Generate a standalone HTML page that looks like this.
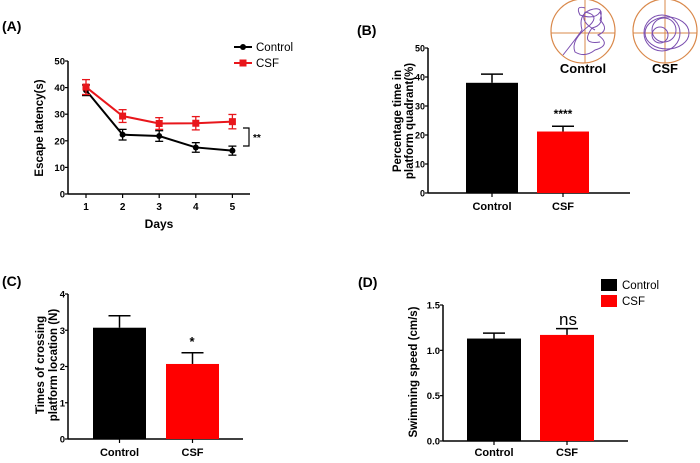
<!DOCTYPE html>
<html><head><meta charset="utf-8"><style>
body{margin:0;background:#fff;width:700px;height:458px;overflow:hidden}
svg{font-family:"Liberation Sans",Arial,sans-serif}
.b{font-weight:bold}
</style></head><body>
<svg id="s" width="700" height="458" viewBox="0 0 700 458">
<text x="2" y="31" font-size="14" class="b">(A)</text>
<text x="357" y="35" font-size="14" class="b">(B)</text>
<text x="2" y="286" font-size="14" class="b">(C)</text>
<text x="358" y="287" font-size="14" class="b">(D)</text>
<g id="A"></g>
<g id="B"></g>
<g id="C"></g>
<g id="D"></g>
<g>
<circle cx="583" cy="31" r="32" fill="none" stroke="#d9884a" stroke-width="1.2"/>
<line x1="551" y1="33" x2="615" y2="33" stroke="#d9884a"/><line x1="585" y1="-1" x2="585" y2="63" stroke="#d9884a"/>
<path d="M563 55 Q575 40 582 30 Q578 15 590 10 Q605 5 600 20 Q610 30 598 35 Q612 45 595 50 Q585 58 575 52 Q570 40 590 25 Q600 15 585 12 Q580 22 595 30 M585 8 Q575 5 580 15 Q595 20 600 12 Q605 25 592 28 Q580 45 600 42" fill="none" stroke="#7b4fb0" stroke-width="1"/>
<circle cx="665" cy="31" r="32" fill="none" stroke="#d9884a" stroke-width="1.2"/>
<line x1="633" y1="33" x2="697" y2="33" stroke="#d9884a"/><line x1="665" y1="-1" x2="665" y2="63" stroke="#d9884a"/>
<circle cx="662" cy="33" r="18" fill="none" stroke="#7b4fb0"/><circle cx="664" cy="30" r="12" fill="none" stroke="#7b4fb0"/><circle cx="660" cy="35" r="8" fill="none" stroke="#7b4fb0"/><ellipse cx="667" cy="33" rx="22" ry="16" fill="none" stroke="#7b4fb0"/>
<text x="583" y="73" font-size="13" class="b" text-anchor="middle">Control</text>
<text x="665" y="73" font-size="13" class="b" text-anchor="middle">CSF</text>
</g>
</svg>
<script>
const NS="http://www.w3.org/2000/svg";
function el(p,t,a,txt){const e=document.createElementNS(NS,t);for(const k in a)e.setAttribute(k,a[k]);if(txt!=null)e.textContent=txt;p.appendChild(e);return e;}

// Panel A data
const daysA=[1,2,3,4,5];
const controlA=[39,22.3,21.8,17.5,16.3];
const controlErrA=[2,2,2,1.8,1.7];
const csfA=[40.2,29.3,26.5,26.6,27.2];
const csfErrA=[2.8,2.4,2.2,2.5,2.7];
const ticksA=[0,10,20,30,40,50];
// Panel B data
const catsB=["Control","CSF"];
const valsB=[38,21.2];
const errB=[3,1.8];
const ticksB=[0,10,20,30,40,50];
// Panel C data
const valsC=[3.07,2.07];
const errC=[0.33,0.31];
const ticksC=[0,1,2,3,4];
// Panel D data
const valsD=[1.13,1.17];
const errD=[0.06,0.07];
const ticksD=["0.0","0.5","1.0","1.5"];

function yAxis(g,x,y0,y1,max,ticks,x2,fs){
  const sy=v=>y0-(v/max)*(y0-y1);
  let l=el(g,'line',{x1:x,y1:y0,x2:x,y2:y1,stroke:'#000','stroke-width':1.5});
  
  
  let xl=el(g,'line',{x1:x,y1:y0,x2:x2,y2:y0,stroke:'#000','stroke-width':1.5});
  
  
  ticks.forEach(t=>{const v=parseFloat(t);const y=sy(v);
    el(g,'line',{x1:x-3,y1:y,x2:x,y2:y,stroke:'#000','stroke-width':1.2});
    const tx=el(g,'text',{x:x-3,y:y+3.5,'font-size':fs||10,'text-anchor':'end','font-weight':'bold'},String(t));
    
    
  });
  return sy;
}
function vtitle(g,baselines,cy,lines){
  lines.forEach((s,i)=>{const x=baselines[i];
    const t=el(g,'text',{x:x,y:cy,'font-size':11.5,'font-weight':'bold','text-anchor':'middle',transform:`rotate(-90 ${x} ${cy})`},s);
    
    
  });
}
function bars(g,sy,vals,errs,lefts,w,y0,cats,labY){
  const cols=['#000','#f00'];
  vals.forEach((v,i)=>{
    const x=lefts[i];const top=sy(v);
    const ey=sy(v+errs[i]);
    el(g,'line',{x1:x+w/2,y1:top,x2:x+w/2,y2:ey,stroke:'#000','stroke-width':1.5});
    el(g,'line',{x1:x+w/2-11,y1:ey,x2:x+w/2+11,y2:ey,stroke:'#000','stroke-width':1.5});
    const r=el(g,'rect',{x:x,y:top,width:w,height:y0-top,fill:cols[i]});
    
    
    el(g,'line',{x1:x+w/2,y1:y0,x2:x+w/2,y2:y0+4,stroke:'#000','stroke-width':1.2});
    const t=el(g,'text',{x:x+w/2,y:labY,'font-size':11,'font-weight':'bold','text-anchor':'middle'},cats[i]);
    
    
  });
}

// Panel A
(function(){
  const g=document.getElementById('A');
  const sy=yAxis(g,68,194,61,50,ticksA,250,9.5);
  const sx=d=>86+(d-1)*36.6;
  daysA.forEach(d=>{el(g,'line',{x1:sx(d),y1:194,x2:sx(d),y2:198,stroke:'#000','stroke-width':1.2});
    const t=el(g,'text',{x:sx(d),y:210,'font-size':10,'font-weight':'bold','text-anchor':'middle'},String(d));
    
    });
  const t=el(g,'text',{x:159,y:228,'font-size':12,'font-weight':'bold','text-anchor':'middle'},'Days');
  
  
  vtitle(g,[43],128,['Escape latency(s)']);
  [[controlA,controlErrA,'#000','control'],[csfA,csfErrA,'#e8161b','csf']].forEach(([vals,errs,c,n])=>{
    const pts=vals.map((v,i)=>sx(daysA[i])+','+sy(v)).join(' ');
    const pl=el(g,'polyline',{points:pts,fill:'none',stroke:c,'stroke-width':2});
    
    
    vals.forEach((v,i)=>{const x=sx(daysA[i]);
      el(g,'line',{x1:x,y1:sy(v-errs[i]),x2:x,y2:sy(v+errs[i]),stroke:c,'stroke-width':1.3});
      el(g,'line',{x1:x-4,y1:sy(v-errs[i]),x2:x+4,y2:sy(v-errs[i]),stroke:c,'stroke-width':1.3});
      el(g,'line',{x1:x-4,y1:sy(v+errs[i]),x2:x+4,y2:sy(v+errs[i]),stroke:c,'stroke-width':1.3});
      const m=n=='control'?el(g,'circle',{cx:x,cy:sy(v),r:3,fill:c}):el(g,'rect',{x:x-3.5,y:sy(v)-3.5,width:7,height:7,fill:c});
      
      
    });
  });
  el(g,'path',{d:'M243 128 H249 V146 H243',fill:'none',stroke:'#000','stroke-width':1.2});
  el(g,'text',{x:253,y:141,'font-size':10,'font-weight':'bold'},'**');
  const lg=el(g,'g',{});
  
  
  el(lg,'line',{x1:234,y1:47,x2:252,y2:47,stroke:'#000','stroke-width':2});el(lg,'circle',{cx:243,cy:47,r:3});
  el(lg,'text',{x:256,y:51,'font-size':11.5},'Control');
  el(lg,'line',{x1:234,y1:63,x2:252,y2:63,stroke:'#e8161b','stroke-width':2});el(lg,'rect',{x:239.5,y:59.5,width:7,height:7,fill:'#e8161b'});
  el(lg,'text',{x:256,y:67,'font-size':11.5},'CSF');
})();
// Panel B
(function(){
  const g=document.getElementById('B');
  const sy=yAxis(g,428,193,48,50,ticksB,630,9);
  vtitle(g,[401,413],121,['Percentage time in','platform quadrant(%)']);
  bars(g,sy,valsB,errB,[466,537],52,193,catsB,210);
  el(g,'text',{x:563,y:118,'font-size':12,'font-weight':'bold','text-anchor':'middle'},'****');
})();
// Panel C
(function(){
  const g=document.getElementById('C');
  const sy=yAxis(g,68,439,294,4,ticksC,243,9.5);
  vtitle(g,[44,57],365,['Times of crossing','platform location (N)']);
  bars(g,sy,valsC,errC,[93,166],53,439,catsB,456);
  el(g,'text',{x:192,y:346,'font-size':13,'font-weight':'bold','text-anchor':'middle'},'*');
})();
// Panel D
(function(){
  const g=document.getElementById('D');
  const sy=yAxis(g,443,441,305,1.5,ticksD,628,9.5);
  vtitle(g,[417],372,['Swimming speed (cm/s)']);
  bars(g,sy,valsD,errD,[467,540],54,441,catsB,456);
  el(g,'text',{x:568,y:325,'font-size':17,'text-anchor':'middle'},'ns');
  const lg=el(g,'g',{});
  
  
  el(lg,'rect',{x:601,y:279,width:16,height:12,fill:'#000'});
  el(lg,'text',{x:622,y:289,'font-size':11.5},'Control');
  el(lg,'rect',{x:601,y:295,width:16,height:12,fill:'#f00'});
  el(lg,'text',{x:622,y:305,'font-size':11.5},'CSF');
})();
</script>
</body></html>
